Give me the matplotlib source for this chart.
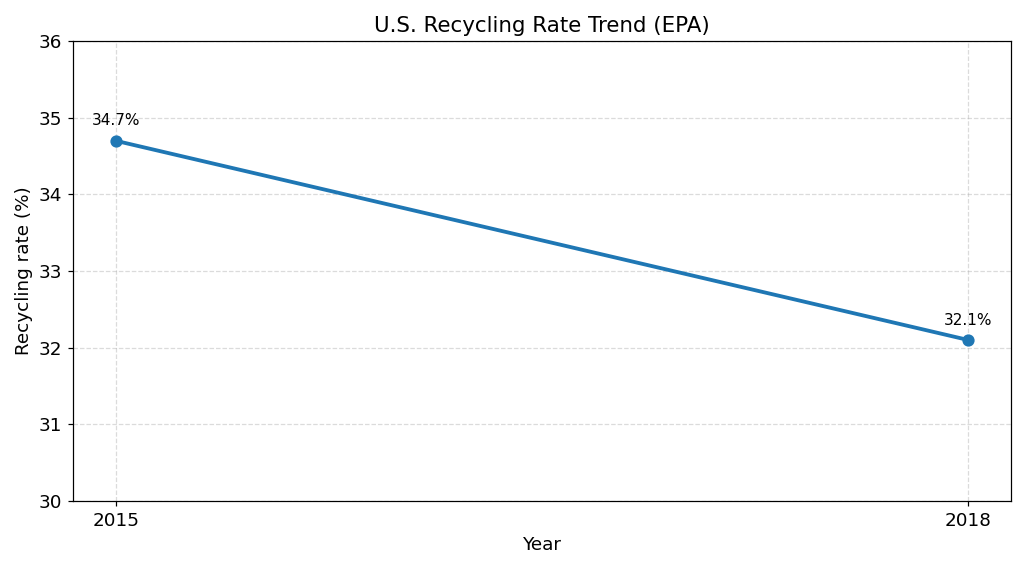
import matplotlib
matplotlib.use("Agg")
import matplotlib.pyplot as plt

years = [2015, 2018]
rates = [34.7, 32.1]
labels = ["34.7%", "32.1%"]

DPI = 110
fig, ax = plt.subplots(figsize=(1024 / DPI, 571 / DPI), dpi=DPI)
ax.plot(years, rates, marker="o", linewidth=2.5, markersize=7, color="#1f77b4")
for x, y, lab in zip(years, rates, labels):
    ax.annotate(lab, (x, y), textcoords="offset points", xytext=(0, 10),
                ha="center", fontsize=10)

ax.set_title("U.S. Recycling Rate Trend (EPA)", fontsize=14)
ax.set_xlabel("Year", fontsize=12)
ax.set_ylabel("Recycling rate (%)", fontsize=12)
ax.set_xticks(years)
ax.set_ylim(30, 36)
ax.tick_params(labelsize=12)
ax.grid(True, linestyle="--", alpha=0.45)

fig.subplots_adjust(left=0.0713, right=0.9873, top=0.928, bottom=0.1226)
fig.savefig("out.png", dpi=DPI)
